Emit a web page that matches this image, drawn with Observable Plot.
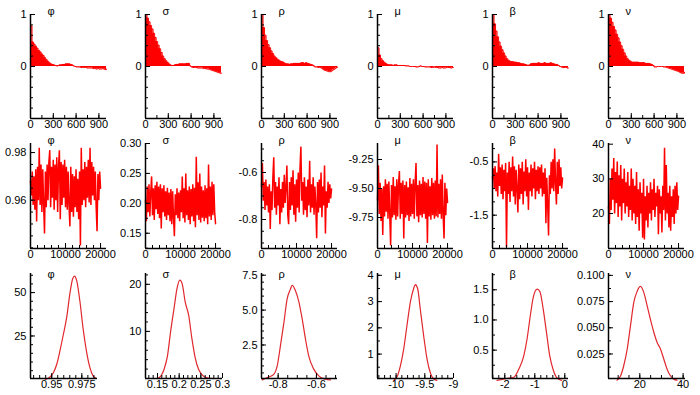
<!DOCTYPE html>
<html><head><meta charset="utf-8">
<script src="https://cdn.jsdelivr.net/npm/d3@7"></script>
<script src="https://cdn.jsdelivr.net/npm/@observablehq/plot@0.6"></script>
<style>
body{margin:0;background:#fff;}
#chart{position:relative;width:700px;height:395px;overflow:hidden;background:#fff;}
#chart svg{position:absolute;}
</style></head><body><div id="chart"></div>
<script>
// ---------- DATA ----------
const names = ["φ","σ","ρ","μ","β","ν"];

// Row 1: autocorrelation by lag
const lags = [0,20,40,60,80,100,120,140,160,180,200,220,240,260,280,300,320,340,360,380,400,420,440,460,480,500,520,540,560,580,600,620,640,660,680,700,720,740,760,780,800,820,840,860,880,900,920,940,960,980,1000];
const acfPhi = [0.78,0.47,0.43,0.39,0.35,0.31,0.28,0.24,0.21,0.17,0.13,0.10,0.07,0.05,0.04,0.03,0.02,0.01,0.02,0.03,0.03,0.04,0.04,0.05,0.05,0.05,0.04,0.03,0.01,0.00,-0.01,-0.01,-0.01,-0.02,-0.02,-0.02,-0.02,-0.03,-0.03,-0.03,-0.03,-0.04,-0.04,-0.05,-0.04,-0.05,-0.05,-0.04,-0.05,-0.06,-0.05];
const acfSigma = [1.00,0.93,0.86,0.79,0.72,0.64,0.56,0.48,0.41,0.34,0.27,0.20,0.15,0.11,0.08,0.05,0.03,0.02,0.02,0.03,0.04,0.04,0.05,0.05,0.05,0.05,0.05,0.06,0.06,0.01,-0.01,-0.02,-0.02,-0.02,-0.03,-0.03,-0.03,-0.03,-0.04,-0.04,-0.05,-0.05,-0.06,-0.07,-0.08,-0.09,-0.10,-0.11,-0.12,-0.13,-0.13];
const acfRho = [1.00,0.75,0.60,0.50,0.42,0.36,0.30,0.25,0.20,0.17,0.14,0.12,0.10,0.09,0.08,0.06,0.05,0.05,0.04,0.05,0.05,0.06,0.06,0.06,0.06,0.06,0.07,0.07,0.06,0.07,0.06,0.05,0.04,0.03,0.01,-0.01,-0.01,-0.02,-0.02,-0.03,-0.05,-0.07,-0.08,-0.09,-0.10,-0.10,-0.08,-0.06,-0.04,-0.02,-0.01];
const acfMu = [0.36,0.22,0.15,0.11,0.08,0.06,0.04,0.03,0.03,0.03,0.02,0.03,0.03,0.02,0.02,0.02,0.02,0.02,0.01,0.01,0.01,0.00,0.00,0.00,0.00,-0.01,-0.01,0.00,0.01,0.00,0.00,-0.01,-0.01,-0.01,-0.01,-0.02,-0.02,-0.01,-0.02,-0.02,-0.03,-0.03,-0.02,-0.03,-0.03,-0.02,-0.02,-0.02,-0.03,-0.02,-0.02];
const acfBeta = [1.00,0.82,0.68,0.57,0.47,0.39,0.32,0.26,0.20,0.15,0.12,0.10,0.09,0.09,0.08,0.08,0.07,0.07,0.06,0.05,0.05,0.04,0.03,0.02,0.03,0.05,0.06,0.06,0.06,0.06,0.07,0.06,0.06,0.06,0.07,0.06,0.06,0.06,0.07,0.06,0.05,0.04,0.04,0.02,0.00,-0.01,-0.02,-0.02,-0.02,-0.03,-0.03];
const acfNu = [1.00,0.93,0.85,0.77,0.70,0.62,0.55,0.47,0.40,0.33,0.26,0.20,0.15,0.12,0.10,0.08,0.08,0.08,0.08,0.08,0.07,0.07,0.07,0.07,0.06,0.06,0.06,0.05,0.04,0.02,-0.01,-0.01,0.00,0.00,0.00,0.00,-0.01,-0.01,-0.02,-0.03,-0.04,-0.05,-0.06,-0.07,-0.08,-0.09,-0.10,-0.12,-0.13,-0.13,-0.11];

// Row 2: trace by iteration
const iters = [0,250,500,750,1000,1250,1500,1750,2000,2250,2500,2750,3000,3250,3500,3750,4000,4250,4500,4750,5000,5250,5500,5750,6000,6250,6500,6750,7000,7250,7500,7750,8000,8250,8500,8750,9000,9250,9500,9750,10000,10250,10500,10750,11000,11250,11500,11750,12000,12250,12500,12750,13000,13250,13500,13750,14000,14250,14500,14750,15000,15250,15500,15750,16000,16250,16500,16750,17000,17250,17500,17750,18000,18250,18500,18750,19000,19250,19500,19750,20000];
const tracePhi = [0.968,0.962,0.972,0.958,0.970,0.956,0.973,0.951,0.974,0.960,
  0.982,0.958,0.975,0.955,0.973,0.958,0.946,0.972,0.957,0.975,
  0.960,0.976,0.981,0.957,0.974,0.961,0.977,0.956,0.975,0.960,
  0.978,0.955,0.974,0.981,0.952,0.976,0.958,0.975,0.961,0.977,
  0.957,0.974,0.956,0.972,0.958,0.949,0.974,0.955,0.971,0.953,
  0.970,0.957,0.973,0.955,0.969,0.952,0.972,0.941,0.982,0.958,
  0.973,0.960,0.976,0.957,0.974,0.961,0.977,0.959,0.982,0.958,
  0.976,0.962,0.974,0.960,0.972,0.957,0.947,0.971,0.960,0.972,0.965];
const traceSigma = [0.205,0.170,0.228,0.185,0.232,0.178,0.220,0.245,0.180,0.225,
  0.172,0.230,0.190,0.236,0.182,0.228,0.175,0.232,0.158,0.225,
  0.185,0.230,0.178,0.220,0.172,0.226,0.180,0.218,0.170,0.224,
  0.165,0.220,0.176,0.145,0.215,0.180,0.225,0.175,0.218,0.170,
  0.222,0.185,0.245,0.175,0.225,0.168,0.250,0.180,0.222,0.172,
  0.228,0.165,0.224,0.178,0.232,0.170,0.226,0.160,0.278,0.180,
  0.235,0.172,0.250,0.168,0.228,0.176,0.222,0.170,0.230,0.175,
  0.225,0.165,0.265,0.178,0.228,0.172,0.236,0.180,0.232,0.185,0.166];
const traceRho = [-0.66,-0.56,-0.72,-0.64,-0.76,-0.63,-0.74,-0.66,-0.77,-0.65,
  -0.84,-0.68,-0.76,-0.62,-0.535,-0.75,-0.64,-0.78,-0.66,-0.74,
  -0.62,-0.82,-0.67,-0.77,-0.64,-0.75,-0.61,-0.73,-0.66,-0.57,
  -0.78,-0.82,-0.64,-0.76,-0.62,-0.74,-0.59,-0.78,-0.65,-0.81,
  -0.63,-0.75,-0.60,-0.77,-0.58,-0.49,-0.72,-0.64,-0.78,-0.62,
  -0.76,-0.66,-0.79,-0.63,-0.74,-0.55,-0.77,-0.65,-0.75,-0.62,
  -0.78,-0.66,-0.74,-0.88,-0.64,-0.77,-0.63,-0.75,-0.60,-0.79,
  -0.66,-0.74,-0.57,-0.86,-0.68,-0.75,-0.64,-0.73,-0.65,-0.71,-0.67];
const traceMu = [-9.60,-9.30,-9.72,-9.45,-9.78,-9.50,-9.90,-9.48,-9.74,-9.42,
  -9.70,-9.46,-9.76,-9.44,-9.72,-9.99,-9.47,-9.75,-9.40,-9.73,
  -9.48,-9.77,-9.42,-9.74,-9.46,-9.35,-9.76,-9.45,-9.72,-9.43,
  -9.93,-9.47,-9.75,-9.44,-9.73,-9.49,-9.78,-9.41,-9.74,-9.46,
  -9.72,-9.42,-9.76,-9.45,-9.28,-9.74,-9.47,-9.79,-9.43,-9.73,
  -9.46,-9.75,-9.40,-9.72,-9.44,-9.76,-9.45,-9.97,-9.42,-9.74,
  -9.48,-9.77,-9.41,-9.73,-9.45,-9.76,-9.43,-9.74,-9.12,-9.75,
  -9.46,-9.72,-9.42,-9.76,-9.38,-9.74,-9.93,-9.45,-9.73,-9.50,-9.62];
const traceBeta = [-0.80,-0.62,-1.00,-0.58,-1.05,-0.70,-1.15,-0.35,-0.95,-0.60,
  -1.10,-0.55,-1.20,-0.65,-1.05,-0.52,-2.10,-0.70,-1.10,-0.50,
  -1.25,-0.60,-1.05,-0.40,-1.15,-0.58,-1.30,-0.65,-1.00,-1.45,
  -0.55,-1.20,-0.62,-1.10,-0.50,-1.30,-0.68,-1.05,-0.45,-1.15,
  -0.60,-1.40,-0.70,-1.05,-0.55,-1.15,-0.62,-1.00,-0.50,-1.20,
  -0.65,-1.05,-0.58,-1.10,-0.60,-1.00,-0.55,-1.15,-0.70,-1.10,
  -0.62,-1.65,-0.80,-1.30,-1.88,-0.75,-1.10,-0.50,-1.00,-0.45,
  -1.05,-0.25,-0.90,-1.30,-0.50,-1.10,-0.45,-0.95,-0.60,-1.00,-0.80];
const traceNu = [22,17,30,21,33,24,36,20,32,23,
  35,19,31,22,34,18,30,23,33,20,
  29,22,32,19,28,21,33,18,30,20,
  28,17,32,19,27,15,29,20,26,13,
  30,12.5,25,18,28,16,26,20,29,18,
  27,21,30,19,26,22,28,14,27,20,
  25,14.5,28,21,39,18,34,20,26,16,
  28,15,25,19,27,17,28,20,29,21,25];

// Row 3: posterior densities
const densPhiX = [0.9447,0.9488,0.9515,0.9543,0.957,0.9597,0.9625,0.9652,0.9674,0.969,0.9707,0.9734,0.9761,0.9789,0.9816,0.9843,0.987];
const densPhiY = [0,1.5,4,9,17,26,36,50,58,59.5,57,45,29,16,7,2,0.5];
const densSigmaX = [0.15,0.1576,0.165,0.173,0.18,0.188,0.195,0.2015,0.207,0.214,0.222,0.2295,0.237,0.245,0.252,0.264,0.279];
const densSigmaY = [0,0.5,1.9,4.8,9.8,14.8,19.1,20.9,20.1,16.2,13.4,8.4,4.4,1.9,0.9,0.15,0];
const densRhoX = [-0.883,-0.857,-0.823,-0.805,-0.788,-0.77,-0.753,-0.736,-0.727,-0.71,-0.692,-0.675,-0.657,-0.64,-0.614,-0.588,-0.553,-0.527];
const densRhoY = [0,0.17,0.4,1.0,2.45,4.1,5.8,6.5,6.78,6.4,5.6,4.4,2.9,1.7,0.77,0.29,0.05,0];
const densMuX = [-10.04,-9.98,-9.925,-9.867,-9.81,-9.75,-9.694,-9.665,-9.625,-9.578,-9.52,-9.46,-9.405,-9.35,-9.29];
const densMuY = [0,0.15,0.55,1.2,2.1,3.0,3.5,3.65,3.5,2.7,1.7,0.8,0.3,0.06,0];
const densBetaX = [-2.26,-1.93,-1.7,-1.54,-1.37,-1.26,-1.15,-1.05,-0.92,-0.83,-0.72,-0.61,-0.5,-0.39,-0.26,-0.11];
const densBetaY = [0,0.03,0.05,0.18,0.4,0.68,1.07,1.38,1.51,1.47,1.18,0.79,0.4,0.18,0.04,0];
const densNuX = [9.5,11.1,12.6,14.2,15.7,17.2,18.8,20.3,21.8,23.4,24.9,26.5,28,29.5,31.1,32.6,34.2,35.7,37.2];
const densNuY = [0,0.004,0.014,0.03,0.052,0.074,0.085,0.0895,0.084,0.071,0.058,0.0455,0.036,0.03,0.02,0.0105,0.004,0.001,0];

// Tick values and labels
const acfYTicks = [0,1], acfYLabels = ["0","1"];
const acfXTicks = [0,300,600,900], acfXLabels = ["0","300","600","900"];
const traceXTicks = [0,10000,20000], traceXLabels = ["0","10000","20000"];
const traceYTicks = [[0.96,0.98],[0.15,0.20,0.25,0.30],[-0.8,-0.6],[-9.75,-9.5,-9.25],[-1.5,-0.5],[20,30,40]];
const traceYLabels = [["0.96","0.98"],["0.15","0.20","0.25","0.30"],["-0.8","-0.6"],["-9.75","-9.50","-9.25"],["-1.5","-0.5"],["20","30","40"]];
const densXTicks = [[0.95,0.975],[0.15,0.2,0.25,0.3],[-0.8,-0.6],[-10,-9.5,-9],[-2,-1,0],[20,40]];
const densXLabels = [["0.95","0.975"],["0.15","0.2","0.25","0.3"],["-0.8","-0.6"],["-10","-9.5","-9"],["-2","-1","0"],["20","40"]];
const densYTicks = [[25,50],[10,20],[2.5,5,7.5],[1,2,3,4],[0.5,1,1.5],[0.025,0.05,0.075,0.1]];
const densYLabels = [["25","50"],["10","20"],["2.5","5.0","7.5"],["1","2","3","4"],["0.5","1.0","1.5"],["0.025","0.050","0.075","0.100"]];

// ---------- LAYOUT ----------
const colX = [30,145,261,377,492,608];
const acfSeries = [acfPhi,acfSigma,acfRho,acfMu,acfBeta,acfNu];
const traceSeries = [tracePhi,traceSigma,traceRho,traceMu,traceBeta,traceNu];
const densX = [densPhiX,densSigmaX,densRhoX,densMuX,densBetaX,densNuX];
const densY = [densPhiY,densSigmaY,densRhoY,densMuY,densBetaY,densNuY];
const traceYDomain = [[0.9397,0.9838],[0.1245,0.30],[-0.9234,-0.4766],[-10.017,-9.112],[-2.125,-0.155],[9.9,40.2]];
const traceYMinor = [0.005,0.025,0.05,null,0.25,null];
const densXDomain = [[0.9324,0.988],[0.1223,0.30],[-0.887,-0.490],[-10.324,-9.0],[-2.41,0.123],[5.54,41.1]];
const densW = [67,77,76,76,76,77];
const densXMinor = [0.005,0.01,0.05,0.1,0.2,5];
const densYDomain = [[0.5,61],[0,22.3],[0.1,7.62],[0.07,4.07],[0.03,1.77],[0.0016,0.1018]];
const densYMinor = [5,2,0.5,0.5,0.25,0.0125];

const chart = document.getElementById("chart");
const FONT = "'Liberation Sans', Arial, Helvetica, sans-serif";

function minorTicks(dom, step) {
  if (!step) return [];
  const out = [];
  for (let k = Math.ceil(dom[0] / step - 1e-9); k * step <= dom[1] + 1e-9; k++) out.push(+(k * step).toFixed(8));
  return out;
}

function panel(o) {
  const mL = 44, mR = 6, mT = 14, mB = 20;
  const {left, top, w, h, xDomain, yDomain, marks, xTicks, xLabels, xMinor, yTicks, yLabels, yMinor, title, titleDy} = o;
  const yLab = yTicks.map((v, i) => ({v, label: yLabels[i]}));
  const xLab = xTicks.map((v, i) => ({v, label: xLabels[i]}));
  const svg = Plot.plot({
    width: mL + w + mR, height: mT + h + mB,
    marginLeft: mL, marginRight: mR, marginTop: mT, marginBottom: mB,
    style: {background: "transparent", overflow: "visible", fontFamily: FONT, fontSize: "11px", color: "black"},
    x: {domain: xDomain, axis: null},
    y: {domain: yDomain, axis: null},
    marks: [
      ...marks,
      Plot.tickY(minorTicks(yDomain, yMinor), {y: d => d, insetRight: w - 3, stroke: "black", strokeWidth: 1}),
      Plot.tickY(yTicks, {y: d => d, insetRight: w - 5, stroke: "black", strokeWidth: 1}),
      Plot.tickX(minorTicks(xDomain, xMinor), {x: d => d, insetTop: h - 3, stroke: "black", strokeWidth: 1}),
      Plot.tickX(xTicks, {x: d => d, insetTop: h - 5, stroke: "black", strokeWidth: 1}),
      Plot.ruleX([xDomain[0]], {stroke: "black", strokeWidth: 1.5}),
      Plot.ruleY([yDomain[0]], {stroke: "black", strokeWidth: 1.5}),
      Plot.text(yLab, {y: "v", text: "label", frameAnchor: "left", dx: -4, textAnchor: "end", fill: "black"}),
      Plot.text(xLab, {x: "v", text: "label", frameAnchor: "bottom", dy: 9, fill: "black"}),
      Plot.text([title], {frameAnchor: "top-left", dx: 17, dy: titleDy, fill: "black"})
    ]
  });
  svg.style.left = (left - mL) + "px";
  svg.style.top = (top - mT) + "px";
  chart.append(svg);
}

// Row 1: ACF
names.forEach((name, c) => {
  const data = lags.map((lag, i) => ({lag, acf: acfSeries[c][i]}));
  panel({
    left: colX[c], top: 14, w: 76, h: 104,
    xDomain: [0, 1000], yDomain: [-1, 1],
    marks: [
      Plot.areaY(data, {x: "lag", y: "acf", fill: "#ff0000", curve: "step-after"}),
      Plot.lineY(data, {x: "lag", y: "acf", stroke: "#ff0000", strokeWidth: 1, curve: "step-after"})
    ],
    xTicks: acfXTicks, xLabels: acfXLabels, xMinor: 150,
    yTicks: acfYTicks, yLabels: acfYLabels, yMinor: 0.2,
    title: name, titleDy: -7
  });
});

// Row 2: traces
names.forEach((name, c) => {
  const data = iters.map((it, i) => ({it, v: traceSeries[c][i]}));
  panel({
    left: colX[c], top: 143, w: 76, h: 105,
    xDomain: [0, 21700], yDomain: traceYDomain[c],
    marks: [Plot.lineY(data, {x: "it", y: "v", stroke: "#ff0000", strokeWidth: 1.5, strokeLinejoin: "bevel"})],
    xTicks: traceXTicks, xLabels: traceXLabels, xMinor: 2000,
    yTicks: traceYTicks[c], yLabels: traceYLabels[c], yMinor: traceYMinor[c],
    title: name, titleDy: -7
  });
});

// Row 3: densities
names.forEach((name, c) => {
  const data = densX[c].map((x, i) => ({x, d: densY[c][i]}));
  panel({
    left: colX[c], top: 273, w: densW[c], h: 105,
    xDomain: densXDomain[c], yDomain: densYDomain[c],
    marks: [Plot.line(data, {x: "x", y: "d", stroke: "#e0282e", strokeWidth: 1.2, curve: "monotone-x"})],
    xTicks: densXTicks[c], xLabels: densXLabels[c], xMinor: densXMinor[c],
    yTicks: densYTicks[c], yLabels: densYLabels[c], yMinor: densYMinor[c],
    title: name, titleDy: -3
  });
});
</script></body></html>
